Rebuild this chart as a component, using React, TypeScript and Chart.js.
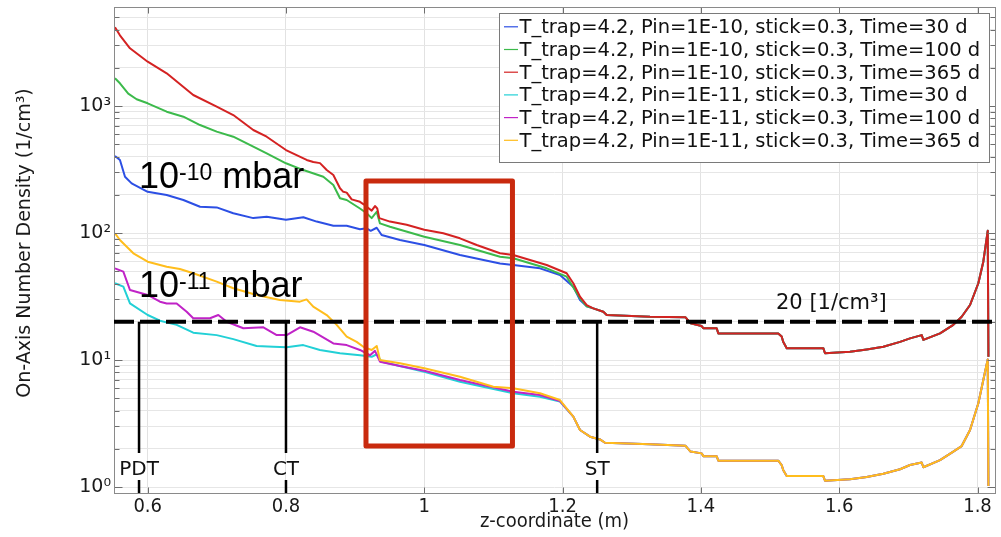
import React, { useEffect, useRef } from 'react';
import { Chart, registerables } from 'chart.js';

Chart.register(...registerables);

const W = 1001;
const H = 537;

// ---- Data (z-coordinate in m, on-axis number density in 1/cm^3) ----
// Pin = 1E-10, 30 d (blue) - left part
const zBlue = [0.5527, 0.5599, 0.5672, 0.5768, 0.6, 0.6275, 0.6516, 0.6757, 0.6998, 0.7238, 0.7527, 0.7721, 0.8, 0.8251, 0.8444, 0.8685, 0.8878, 0.907, 0.9167, 0.9225, 0.9312, 0.9383, 0.9648, 1.0, 1.0516, 1.1095, 1.1287, 1.1673, 1.1962, 1.2155, 1.2252, 1.2349];
const nBlue = [404, 376, 277, 246, 211, 199, 182, 161, 159, 143, 131, 134, 127, 133, 123, 114, 114, 107, 109, 104, 110, 96.4, 88.1, 80.5, 67.1, 57.5, 56.0, 52.7, 46.7, 37.8, 29.7, 26.5];

// Pin = 1E-10, 100 d (green) - left part
const zGreen = [0.5527, 0.5599, 0.5719, 0.584, 0.6, 0.6275, 0.6516, 0.6757, 0.6998, 0.7238, 0.7527, 0.7721, 0.8, 0.8251, 0.854, 0.8685, 0.8781, 0.8878, 0.907, 0.9167, 0.9239, 0.9312, 0.9359, 0.9504, 1.0, 1.0516, 1.1095, 1.1287, 1.177, 1.2059, 1.2252, 1.2349];
const nGreen = [1652, 1510, 1250, 1130, 1050, 902, 824, 708, 628, 573, 478, 424, 354, 313, 277, 239, 188, 182, 156, 143, 131, 147, 119, 112, 93.5, 80.5, 65.0, 63.2, 52.7, 45.3, 30.6, 26.5];

// Pin = 1E-10, 365 d (red) - left part
const zRed = [0.5527, 0.5599, 0.5744, 0.6, 0.6275, 0.6659, 0.6998, 0.7238, 0.7527, 0.7721, 0.8, 0.8299, 0.8395, 0.8492, 0.8589, 0.8685, 0.8781, 0.8829, 0.8878, 0.895, 0.907, 0.9118, 0.9167, 0.9239, 0.9287, 0.932, 0.9349, 0.9504, 0.9745, 1.0, 1.0275, 1.0516, 1.0758, 1.1095, 1.1287, 1.177, 1.2059, 1.2155, 1.2252, 1.2349];
const nRed = [4169, 3600, 2846, 2233, 1808, 1221, 987, 849, 647, 573, 450, 376, 362, 355, 313, 286, 225, 211, 208, 184, 176, 169, 161, 150, 163, 156, 131, 123, 116, 106, 99.5, 90.8, 80.5, 69.2, 67.1, 56.0, 48.2, 40.2, 31.5, 27.1];

// Shared downstream part for Pin = 1E-10
const zHighTail = [1.2444, 1.2589, 1.2638, 1.3264, 1.3778, 1.385, 1.4011, 1.4035, 1.4228, 1.4252, 1.5119, 1.5168, 1.519, 1.5241, 1.577, 1.5795, 1.6156, 1.6398, 1.6638, 1.688, 1.7024, 1.7193, 1.7217, 1.7458, 1.765, 1.7771, 1.7892, 1.8012, 1.8084, 1.8148, 1.8158];
const nHighTail = [25.5, 24.0, 22.6, 21.9, 21.7, 19.5, 18.5, 17.8, 17.8, 16.2, 16.2, 15.3, 13.9, 12.4, 12.4, 11.3, 11.6, 12.1, 12.7, 13.9, 14.8, 15.7, 14.4, 16.2, 18.9, 21.9, 27.1, 40.2, 59.4, 104, 10.6];

// Pin = 1E-11, 30 d (cyan) - left part
const zCyan = [0.5527, 0.5648, 0.5744, 0.6, 0.6178, 0.6419, 0.6659, 0.6998, 0.7238, 0.7575, 0.7817, 0.801, 0.825, 0.8491, 0.8781, 0.907, 0.9239, 0.9312, 0.9383, 1.0, 1.0516, 1.1287, 1.1673, 1.1962];
const nCyan = [40.2, 37.8, 27.9, 22.6, 20.4, 18.9, 16.4, 15.7, 14.6, 12.9, 12.7, 12.6, 13.1, 12.0, 11.3, 10.9, 10.6, 11.1, 9.7, 8.09, 6.75, 5.47, 5.14, 4.7];

// Pin = 1E-11, 100 d (magenta) - left part
const zMagenta = [0.5527, 0.5648, 0.5744, 0.6, 0.6178, 0.6275, 0.6419, 0.6564, 0.6659, 0.6901, 0.7022, 0.7143, 0.7383, 0.7673, 0.7866, 0.801, 0.8203, 0.8395, 0.8685, 0.8878, 0.907, 0.9215, 0.9287, 0.9359, 0.9648, 1.0, 1.0516, 1.1287, 1.1673, 1.1962];
const nMagenta = [52.7, 49.6, 35.6, 32.5, 28.8, 27.9, 27.9, 24.0, 21.3, 21.3, 22.6, 20.0, 17.8, 18.1, 15.7, 15.7, 18.1, 16.7, 13.5, 13.1, 12.0, 10.9, 11.8, 9.7, 8.97, 8.24, 6.96, 5.63, 5.3, 4.75];

// Pin = 1E-11, 365 d (yellow) - left part
const zYellow = [0.5527, 0.5599, 0.5697, 0.5793, 0.6, 0.6275, 0.6466, 0.6659, 0.6998, 0.7238, 0.7575, 0.7912, 0.8201, 0.8298, 0.8394, 0.8589, 0.8733, 0.8878, 0.9022, 0.9119, 0.9239, 0.9312, 0.9359, 0.9648, 1.0, 1.0516, 1.0998, 1.1287, 1.1673, 1.1962];
const nYellow = [99.5, 88.1, 78.0, 69.2, 59.4, 54.3, 52.0, 48.2, 41.4, 36.7, 32.5, 29.7, 28.8, 30.0, 26.3, 22.6, 18.9, 15.3, 13.9, 12.7, 12.0, 12.9, 10.0, 9.42, 8.6, 7.39, 6.16, 5.99, 5.47, 4.84];

// Shared downstream part for Pin = 1E-11
const zLowTail = [1.2155, 1.2252, 1.2397, 1.2541, 1.2613, 1.3264, 1.3778, 1.385, 1.4011, 1.4035, 1.4228, 1.4252, 1.5119, 1.5168, 1.519, 1.5241, 1.577, 1.5795, 1.6156, 1.6398, 1.6638, 1.688, 1.7024, 1.7193, 1.7217, 1.7458, 1.765, 1.7771, 1.7892, 1.8012, 1.8084, 1.8148, 1.8158];
const nLowTail = [3.58, 2.81, 2.49, 2.37, 2.23, 2.17, 2.11, 1.9, 1.84, 1.75, 1.75, 1.61, 1.61, 1.49, 1.36, 1.22, 1.22, 1.12, 1.15, 1.2, 1.27, 1.38, 1.49, 1.56, 1.43, 1.63, 1.9, 2.1, 2.81, 4.56, 6.96, 10.1, 1.02];

const legendLabels = [
  'T_trap=4.2, Pin=1E-10, stick=0.3, Time=30 d',
  'T_trap=4.2, Pin=1E-10, stick=0.3, Time=100 d',
  'T_trap=4.2, Pin=1E-10, stick=0.3, Time=365 d',
  'T_trap=4.2, Pin=1E-11, stick=0.3, Time=30 d',
  'T_trap=4.2, Pin=1E-11, stick=0.3, Time=100 d',
  'T_trap=4.2, Pin=1E-11, stick=0.3, Time=365 d',
];
const seriesColors = ['#2c4fe4', '#3cba4b', '#d42222', '#22d0d6', '#c023c7', '#ffbd1c'];
const drawOrder = [4, 2, 0, 5, 3, 1];

// Axes
const xTicks = [0.6, 0.8, 1.0, 1.2, 1.4, 1.6, 1.8];
const xTickLabels = ['0.6', '0.8', '1', '1.2', '1.4', '1.6', '1.8'];
const yMajorTicks = [1, 10, 100, 1000];
const yTickLabels = ['10⁰', '10¹', '10²', '10³'];
const yMinorTicks = [2, 3, 4, 5, 6, 7, 8, 9, 20, 30, 40, 50, 60, 70, 80, 90, 200, 300, 400, 500, 600, 700, 800, 900, 2000, 3000, 4000, 5000];
const xRange = [0.5513, 1.8253];
const yRange = [0.897, 6019];

// Annotations
const thresholdValue = 20;
const thresholdLabel = '20 [1/cm³]';
const markerZ = [0.5875, 0.8, 1.25];
const markerLabels = ['PDT', 'CT', 'ST'];
const boxZ = [0.9157, 1.1275];
const boxN = [2.1, 256.7];
const xTitle = 'z-coordinate (m)';
const yTitle = 'On-Axis Number Density (1/cm³)';

const toPoints = (zs: number[], ns: number[]) => zs.map((z, i) => ({ x: z, y: ns[i] }));

function drawPressure(ctx: CanvasRenderingContext2D, x: number, base: number, sup: string) {
  ctx.fillStyle = '#000';
  ctx.textAlign = 'left';
  ctx.textBaseline = 'alphabetic';
  ctx.font = '36px "Liberation Sans", Arial, sans-serif';
  ctx.fillText('10', x, base);
  let w = ctx.measureText('10').width;
  ctx.font = '23px "Liberation Sans", Arial, sans-serif';
  ctx.fillText(sup, x + w, base - 8);
  w += ctx.measureText(sup).width;
  ctx.font = '36px "Liberation Sans", Arial, sans-serif';
  ctx.fillText(' mbar', x + w, base);
}

const overlayPlugin = {
  id: 'overlay',
  afterDatasetsDraw(chart: any) {
    const { ctx, chartArea: a, scales } = chart;
    const xs = scales.x;
    const ys = scales.y;
    ctx.save();

    const L = Math.round(a.left) + 0.5;
    const T = Math.round(a.top) + 0.5;
    const R = Math.round(a.right) + 0.5;
    const B = Math.round(a.bottom) + 0.5;

    // inner tick marks
    ctx.strokeStyle = '#6e6e6e';
    ctx.lineWidth = 1;
    ctx.beginPath();
    [...yMajorTicks, ...yMinorTicks].forEach((v) => {
      const py = Math.round(ys.getPixelForValue(v)) + 0.5;
      const len = yMajorTicks.includes(v) ? 8 : 5;
      ctx.moveTo(L, py); ctx.lineTo(L + len, py);
      ctx.moveTo(R, py); ctx.lineTo(R - len, py);
    });
    xTicks.forEach((v) => {
      const px = Math.round(xs.getPixelForValue(v)) + 0.5;
      ctx.moveTo(px, B); ctx.lineTo(px, B - 6);
      ctx.moveTo(px, T); ctx.lineTo(px, T + 6);
    });
    ctx.stroke();

    // frame
    ctx.strokeStyle = '#8a8a8a';
    ctx.strokeRect(L, T, R - L, B - T);

    // threshold line
    const y20 = ys.getPixelForValue(thresholdValue);
    ctx.strokeStyle = '#000';
    ctx.lineWidth = 4;
    ctx.setLineDash([20, 6]);
    ctx.beginPath();
    ctx.moveTo(a.left, y20);
    ctx.lineTo(a.right, y20);
    ctx.stroke();
    ctx.setLineDash([]);

    ctx.fillStyle = '#111';
    ctx.font = '21px "DejaVu Sans", sans-serif';
    ctx.textAlign = 'left';
    ctx.textBaseline = 'alphabetic';
    ctx.fillText(thresholdLabel, 776, 309);

    // position markers
    ctx.lineWidth = 2.5;
    ctx.strokeStyle = '#000';
    markerZ.forEach((z, i) => {
      const px = xs.getPixelForValue(z);
      ctx.beginPath();
      ctx.moveTo(px, y20);
      ctx.lineTo(px, 453);
      ctx.moveTo(px, 480);
      ctx.lineTo(px, a.bottom);
      ctx.stroke();
      ctx.font = '20px "DejaVu Sans", sans-serif';
      ctx.textAlign = 'center';
      ctx.fillStyle = '#111';
      ctx.fillText(markerLabels[i], px, 475);
    });

    // highlighted region box
    const bx0 = xs.getPixelForValue(boxZ[0]);
    const bx1 = xs.getPixelForValue(boxZ[1]);
    const by0 = ys.getPixelForValue(boxN[1]);
    const by1 = ys.getPixelForValue(boxN[0]);
    ctx.strokeStyle = '#c92a0e';
    ctx.lineWidth = 5;
    ctx.lineJoin = 'round';
    ctx.strokeRect(bx0, by0, bx1 - bx0, by1 - by0);

    // pressure labels
    drawPressure(ctx, 139, 188, '-10');
    drawPressure(ctx, 139, 296.5, '-11');

    ctx.restore();
  },
  afterDraw(chart: any) {
    const { ctx, chartArea: a } = chart;
    ctx.save();
    // axis titles
    ctx.fillStyle = '#1a1a1a';
    ctx.font = '20px "DejaVu Sans Condensed", "DejaVu Sans", sans-serif';
    ctx.textAlign = 'center';
    ctx.textBaseline = 'middle';
    ctx.fillText(xTitle, (a.left + a.right) / 2, 522);
    ctx.save();
    ctx.translate(25, 243);
    ctx.rotate(-Math.PI / 2);
    ctx.font = '19px "DejaVu Sans", sans-serif';
    ctx.fillText(yTitle, 0, 0);
    ctx.restore();

    // legend
    const lx = 499.5, ly = 13.5, lw = 490, lh = 149;
    ctx.fillStyle = '#fff';
    ctx.fillRect(lx, ly, lw, lh);
    ctx.strokeStyle = '#7a7a7a';
    ctx.lineWidth = 1;
    ctx.strokeRect(lx, ly, lw, lh);
    ctx.font = '19.5px "DejaVu Sans", sans-serif';
    ctx.textAlign = 'left';
    ctx.textBaseline = 'alphabetic';
    legendLabels.forEach((label, i) => {
      const base = 33.3 + 22.7 * i;
      ctx.strokeStyle = seriesColors[i];
      ctx.lineWidth = 1.2;
      ctx.beginPath();
      ctx.moveTo(504, base - 6.5);
      ctx.lineTo(518, base - 6.5);
      ctx.stroke();
      ctx.fillStyle = '#111';
      ctx.fillText(label, 519.5, base);
    });
    ctx.restore();
  },
};

export default function App() {
  const ref = useRef<HTMLCanvasElement>(null);

  useEffect(() => {
    const canvas = ref.current;
    if (!canvas) return;
    const seriesPoints = [
      [...toPoints(zBlue, nBlue), ...toPoints(zHighTail, nHighTail)],
      [...toPoints(zGreen, nGreen), ...toPoints(zHighTail, nHighTail)],
      [...toPoints(zRed, nRed), ...toPoints(zHighTail, nHighTail)],
      [...toPoints(zCyan, nCyan), ...toPoints(zLowTail, nLowTail)],
      [...toPoints(zMagenta, nMagenta), ...toPoints(zLowTail, nLowTail)],
      [...toPoints(zYellow, nYellow), ...toPoints(zLowTail, nLowTail)],
    ];
    const chart = new Chart(canvas, {
      type: 'line',
      data: {
        datasets: seriesPoints.map((pts, i) => ({
          label: legendLabels[i],
          data: pts,
          borderColor: seriesColors[i],
          backgroundColor: seriesColors[i],
          borderWidth: 2,
          pointRadius: 0,
          tension: 0,
          fill: false,
          order: drawOrder[i],
          borderJoinStyle: 'round' as const,
        })),
      },
      options: {
        responsive: false,
        animation: false,
        parsing: true,
        layout: { padding: { top: 7, right: 6, left: 0, bottom: 0 }, autoPadding: false },
        plugins: { legend: { display: false }, tooltip: { enabled: false }, title: { display: false } },
        scales: {
          x: {
            type: 'linear',
            min: xRange[0],
            max: xRange[1],
            afterBuildTicks: (s: any) => { s.ticks = xTicks.map((v) => ({ value: v })); },
            afterFit: (s: any) => { s.height = 44; s.paddingLeft = 0; s.paddingRight = 0; },
            ticks: {
              autoSkip: false,
              maxRotation: 0,
              padding: 2,
              color: '#1a1a1a',
              font: { family: '"DejaVu Sans Condensed", "DejaVu Sans", sans-serif', size: 20 },
              callback: (_v: any, i: number) => xTickLabels[i],
            },
            grid: { color: '#e2e2e2', drawTicks: false, lineWidth: 1 },
            border: { display: false },
          },
          y: {
            type: 'logarithmic',
            min: yRange[0],
            max: yRange[1],
            afterBuildTicks: (s: any) => {
              s.ticks = [...yMajorTicks, ...yMinorTicks].sort((p, q) => p - q).map((v) => ({ value: v }));
            },
            afterFit: (s: any) => { s.width = 114; s.paddingTop = 0; s.paddingBottom = 0; },
            ticks: {
              autoSkip: false,
              padding: 3,
              color: '#1a1a1a',
              font: { family: '"DejaVu Sans", sans-serif', size: 19 },
              callback: (v: any) => {
                const k = yMajorTicks.indexOf(Number(v));
                return k >= 0 ? yTickLabels[k] : '';
              },
            },
            grid: { color: '#e6e6e6', drawTicks: false, lineWidth: 1 },
            border: { display: false },
          },
        },
      },
      plugins: [overlayPlugin],
    } as any);
    return () => chart.destroy();
  }, []);

  return (
    <div style={{ position: 'absolute', left: 0, top: 0, width: W, height: H, background: '#fff' }}>
      <canvas ref={ref} width={W} height={H} style={{ display: 'block', width: W, height: H }} />
    </div>
  );
}
